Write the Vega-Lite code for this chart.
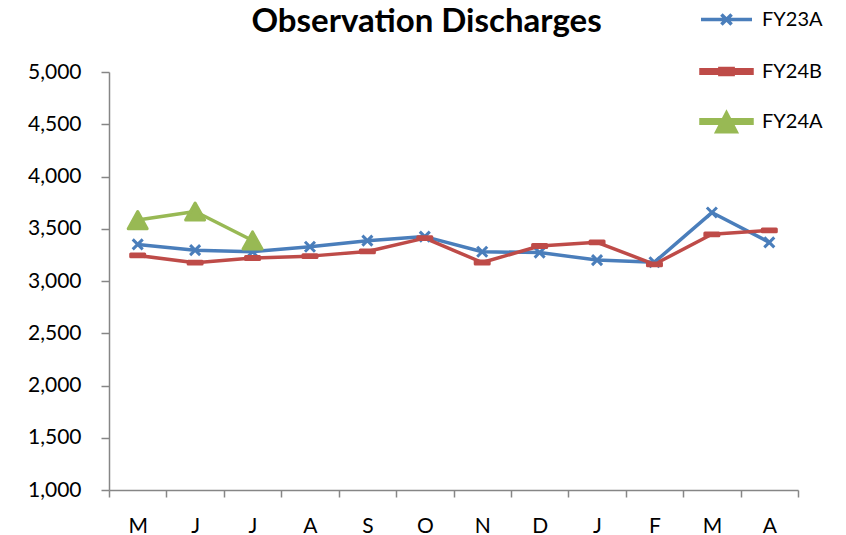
{
  "$schema": "https://vega.github.io/schema/vega-lite/v6.json",
  "width": 689,
  "height": 418,
  "autosize": "none",
  "padding": {"left": 109, "top": 72, "right": 48, "bottom": 45},
  "title": {"text": "Observation Discharges", "font": "Lato", "fontSize": 33, "fontWeight": "bold", "color": "#000000", "anchor": "middle", "frame": "group", "dx": -27, "offset": 0, "dy": 73, "baseline": "alphabetic"},
  "config": {
    "view": {"stroke": null},
    "font": "Lato"
  },
  "data": {"values": [
    {"month": "May", "series": "FY23A", "value": 3350},
    {"month": "Jun", "series": "FY23A", "value": 3295},
    {"month": "Jul", "series": "FY23A", "value": 3280},
    {"month": "Aug", "series": "FY23A", "value": 3328},
    {"month": "Sep", "series": "FY23A", "value": 3386},
    {"month": "Oct", "series": "FY23A", "value": 3425},
    {"month": "Nov", "series": "FY23A", "value": 3280},
    {"month": "Dec", "series": "FY23A", "value": 3272},
    {"month": "Jan", "series": "FY23A", "value": 3200},
    {"month": "Feb", "series": "FY23A", "value": 3180},
    {"month": "Mar", "series": "FY23A", "value": 3655},
    {"month": "Apr", "series": "FY23A", "value": 3370},
    {"month": "May", "series": "FY24B", "value": 3245},
    {"month": "Jun", "series": "FY24B", "value": 3175},
    {"month": "Jul", "series": "FY24B", "value": 3220},
    {"month": "Aug", "series": "FY24B", "value": 3238},
    {"month": "Sep", "series": "FY24B", "value": 3283},
    {"month": "Oct", "series": "FY24B", "value": 3410},
    {"month": "Nov", "series": "FY24B", "value": 3177},
    {"month": "Dec", "series": "FY24B", "value": 3335},
    {"month": "Jan", "series": "FY24B", "value": 3370},
    {"month": "Feb", "series": "FY24B", "value": 3160},
    {"month": "Mar", "series": "FY24B", "value": 3447},
    {"month": "Apr", "series": "FY24B", "value": 3485},
    {"month": "May", "series": "FY24A", "value": 3583},
    {"month": "Jun", "series": "FY24A", "value": 3665},
    {"month": "Jul", "series": "FY24A", "value": 3388}
  ]},
  "encoding": {
    "x": {
      "field": "month", "type": "ordinal",
      "sort": ["May","Jun","Jul","Aug","Sep","Oct","Nov","Dec","Jan","Feb","Mar","Apr"],
      "scale": {"type": "band", "paddingInner": 0, "paddingOuter": 0},
      "bandPosition": 0.5,
      "axis": {"title": null, "labelExpr": "substring(datum.label, 0, 1)", "labelAngle": 0, "tickBand": "extent", "tickSize": 7, "tickColor": "#868686", "tickWidth": 1.5, "domainColor": "#868686", "domainWidth": 1.5, "labelFontSize": 21, "labelColor": "#000000", "labelPadding": 18, "labelFont": "Lato"}
    },
    "y": {
      "field": "value", "type": "quantitative",
      "scale": {"domain": [1000, 5000], "nice": false, "zero": false},
      "axis": {"title": null, "values": [1000,1500,2000,2500,3000,3500,4000,4500,5000], "format": ",.0f", "grid": false, "tickSize": 8, "tickColor": "#868686", "tickWidth": 1.5, "domainColor": "#868686", "domainWidth": 1.5, "labelFontSize": 21, "labelColor": "#000000", "labelPadding": 20, "labelFont": "Lato"}
    }
  },
  "layer": [
    {
      "mark": {"type": "line", "strokeWidth": 3.5, "strokeCap": "round", "strokeJoin": "round"},
      "encoding": {
        "color": {
          "field": "series", "type": "nominal",
          "scale": {"domain": ["FY23A","FY24B","FY24A"], "range": ["#4A7EBB","#BE4B48","#98B954"]},
          "legend": {
            "title": null, "orient": "none", "legendX": 590, "legendY": -80, "padding": 0, "rowPadding": 12,
            "symbolSize": 2601, "labelFontSize": 20, "labelFont": "Lato", "labelColor": "#000000", "labelOffset": 8,
            "encode": {
              "symbols": {
                "update": {
                  "shape": {"signal": "datum.value === 'FY23A' ? 'M-1,0H1M-0.2,-0.2L0.2,0.2M-0.2,0.2L0.2,-0.2' : (datum.value === 'FY24B' ? 'M-1,-0.07H1V0.07H-1ZM-0.26,-0.12H0.26V0.12H-0.26Z' : 'M-1,-0.07H1V0.07H-1ZM0,-0.33L0.38,0.4L-0.38,0.4Z')"},
                  "fill": {"signal": "datum.value === 'FY23A' ? 'transparent' : (datum.value === 'FY24B' ? '#BE4B48' : '#98B954')"},
                  "stroke": {"signal": "datum.value === 'FY23A' ? '#4A7EBB' : 'transparent'"},
                  "strokeWidth": {"value": 3.5},
                  "opacity": {"value": 1}
                }
              }
            }
          }
        }
      }
    },
    {
      "transform": [{"filter": "datum.series === 'FY23A'"}],
      "mark": {"type": "point", "filled": false, "shape": "M-1,-1L1,1M-1,1L1,-1", "size": 100, "stroke": "#4A7EBB", "strokeWidth": 3, "opacity": 1}
    },
    {
      "transform": [{"filter": "datum.series === 'FY24B'"}],
      "mark": {"type": "point", "filled": true, "shape": "M-1,-0.2H1V0.2H-1Z", "size": 196, "fill": "#BE4B48", "stroke": "#BE4B48", "strokeWidth": 3, "strokeJoin": "round", "opacity": 1}
    },
    {
      "transform": [{"filter": "datum.series === 'FY24A'"}],
      "mark": {"type": "point", "filled": true, "shape": "M0,-0.9L1,0.9L-1,0.9Z", "size": 361, "fill": "#98B954", "stroke": "#98B954", "strokeWidth": 3, "strokeJoin": "round", "opacity": 1}
    }
  ]
}
